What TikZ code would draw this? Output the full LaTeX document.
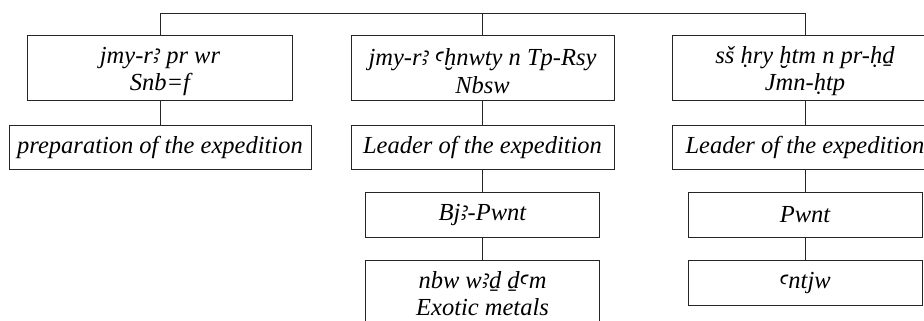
\documentclass[tikz,border=0pt]{standalone}
\usepackage{fontspec}
\setmainfont{Liberation Serif}
\newfontfamily\egfont{Noto Sans}
\newcommand\eA{{\egfont\itshape ꜣ}}
\newcommand\eY{{\egfont\itshape ꜥ}}
\newcommand\lowr{\rule{0pt}{24pt}}
\tikzset{
  box/.style={draw=black!85, line width=0.9pt, rectangle, align=center, inner sep=2pt,
    font=\fontsize{24.5}{27.5}\selectfont\itshape, text=black},
  conn/.style={draw=black!85, line width=0.9pt},
}
\begin{document}
\begin{tikzpicture}[x=1pt,y=1pt]
\clip (0,0) rectangle (924,-321);
\fill[white] (0,0) rectangle (924,-321);
% column centres 160, 482.5, 805
\node[box, minimum width=265pt, minimum height=65pt] (a1) at (160,-67.5) {\lowr jmy-r\eA{} pr wr\\Snb=f};
\node[box, minimum width=263pt, minimum height=65pt] (a2) at (482.5,-67.5) {\lowr jmy-r\eA{} \eY{}ḫnwty n Tp-Rsy\\Nbsw};
\node[box, minimum width=266pt, minimum height=65pt] (a3) at (805,-67.5) {\lowr sš ḥry ḫtm n pr-ḥḏ\\Jmn-ḥtp};
\node[box, minimum width=302pt, minimum height=44pt] (b1) at (160,-147) {preparation of the expedition};
\node[box, minimum width=263pt, minimum height=44pt] (b2) at (482.5,-147) {Leader of the expedition};
\node[box, minimum width=266pt, minimum height=44pt] (b3) at (805,-147) {Leader of the expedition};
\node[box, minimum width=234pt, minimum height=45pt] (c2) at (482.5,-214.5) {Bj\eA-Pwnt};
\node[box, minimum width=234pt, minimum height=45pt] (c3) at (805,-214.5) {Pwnt};
\node[box, minimum width=234pt, minimum height=67pt] (d2) at (482.5,-293.5) {nbw w\eA{}ḏ ḏ\eY{}m\\Exotic metals};
\node[box, minimum width=234pt, minimum height=45pt] (d3) at (805,-282.5) {\eY{}ntjw};
\coordinate (top) at (482.5,-13);
\draw[conn] (a1.north) -- (a1.north |- top) -- (a3.north |- top) -- (a3.north);
\draw[conn] (a2.north) -- (a2.north |- top);
\draw[conn] (a1.south) -- (b1.north);
\draw[conn] (a2.south) -- (b2.north);
\draw[conn] (a3.south) -- (b3.north);
\draw[conn] (b2.south) -- (c2.north);
\draw[conn] (b3.south) -- (c3.north);
\draw[conn] (c2.south) -- (d2.north);
\draw[conn] (c3.south) -- (d3.north);
\end{tikzpicture}
\end{document}
